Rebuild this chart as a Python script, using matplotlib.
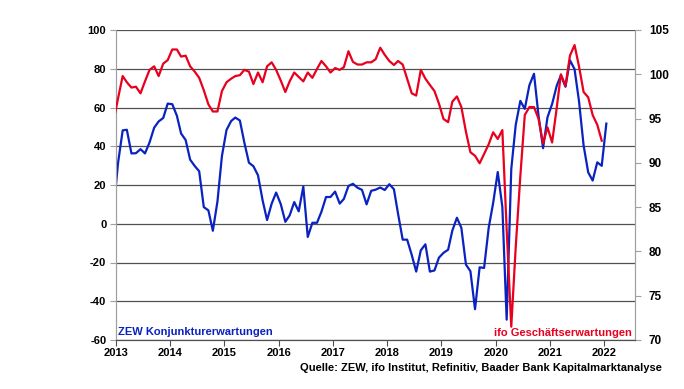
import matplotlib
matplotlib.use("Agg")
import matplotlib.pyplot as plt
import pandas as pd

plt.rcParams['font.family'] = ['Liberation Sans', 'DejaVu Sans']
plt.rcParams['font.weight'] = 'bold'
plt.rcParams['axes.unicode_minus'] = False

# ZEW Konjunkturerwartungen, monthly Dec 2012 .. Jan 2022
zew = [6.9,
       31.5, 48.2, 48.5, 36.3, 36.4, 38.5, 36.3, 42.0, 49.6, 52.8, 54.6, 62.0,
       61.7, 55.7, 46.6, 43.2, 33.1, 29.8, 27.1, 8.6, 6.9, -3.6, 11.5, 34.9,
       48.4, 53.0, 54.8, 53.3, 41.9, 31.5, 29.7, 25.0, 12.1, 1.9, 10.4, 16.1,
       10.2, 1.0, 4.3, 11.2, 6.4, 19.2, -6.8, 0.5, 0.5, 6.2, 13.8, 13.8,
       16.6, 10.4, 12.8, 19.5, 20.6, 18.6, 17.5, 10.0, 17.0, 17.6, 18.7, 17.4,
       20.4, 17.8, 5.1, -8.2, -8.2, -16.1, -24.7, -13.7, -10.6, -24.7, -24.1, -17.5,
       -15.0, -13.4, -3.6, 3.1, -2.1, -21.1, -24.5, -44.1, -22.5, -22.8, -2.1, 10.7,
       26.7, 8.7, -49.5, 28.2, 51.0, 63.4, 59.3, 71.5, 77.4, 56.1, 39.0, 55.0,
       61.8, 71.2, 76.6, 70.7, 84.4, 79.8, 63.3, 40.4, 26.5, 22.3, 31.7, 29.9,
       51.7]

# ifo Geschäftserwartungen, monthly Dec 2012 .. Dec 2021
ifo = [94.7,
       97.3, 99.8, 99.1, 98.5, 98.6, 97.85, 99.2, 100.5, 100.9, 99.8, 101.2, 101.6,
       102.8, 102.8, 102.0, 102.1, 100.9, 100.3, 99.6, 98.2, 96.6, 95.8, 95.8, 98.1,
       99.1, 99.5, 99.8, 99.9, 100.5, 100.3, 98.9, 100.2, 99.1, 100.9, 101.35, 100.5,
       99.3, 98.0, 99.2, 100.2, 99.7, 99.2, 100.2, 99.6, 100.6, 101.5, 100.9, 100.2,
       100.7, 100.5, 100.8, 102.6, 101.4, 101.1, 101.1, 101.35, 101.35, 101.7, 103.0, 102.2,
       101.5, 101.05, 101.5, 101.1, 99.5, 97.85, 97.6, 100.5, 99.5, 98.8, 98.1, 96.7,
       94.95, 94.6, 96.9, 97.5, 96.3, 93.5, 91.2, 90.8, 89.95, 91.0, 92.1, 93.45,
       92.7, 93.7, 82.5, 71.5, 80.5, 88.5, 95.4, 96.3, 96.3, 95.0, 92.2, 94.0,
       92.3, 96.2, 100.0, 98.7, 102.1, 103.3, 100.9, 98.0, 97.4, 95.4, 94.3, 92.5]

start_month = '2012-12-01'
left_ticks = [-60, -40, -20, 0, 20, 40, 60, 80, 100]
right_ticks = [70, 75, 80, 85, 90, 95, 100, 105]
year_ticks = list(range(2013, 2023))

zew_dates = pd.date_range(start_month, periods=len(zew), freq='MS') + pd.Timedelta(days=14)
ifo_dates = pd.date_range(start_month, periods=len(ifo), freq='MS') + pd.Timedelta(days=14)

BLUE = '#0A22C0'
RED = '#E8001E'
GRID = '#505050'

W, H = 684, 389
fig = plt.figure(figsize=(W / 100, H / 100), dpi=100)
L, R, T, B = 116, 635, 30, 340
ax = fig.add_axes([L / W, 1 - B / H, (R - L) / W, (B - T) / H])
ax2 = ax.twinx()

ax.plot(zew_dates, zew, color=BLUE, lw=1.6, solid_joinstyle='round', zorder=3)
ax2.plot(ifo_dates, ifo, color=RED, lw=1.6, solid_joinstyle='round', zorder=3)

ax.set_ylim(-60, 100)
ax.set_yticks(left_ticks)
ax2.set_ylim(70, 105)
ax2.set_yticks(right_ticks)

ax.set_xlim(pd.Timestamp('2013-01-01'), pd.Timestamp('2022-07-27'))
ax.set_xticks([pd.Timestamp(f'{y}-01-01') for y in year_ticks])
ax.set_xticklabels([str(y) for y in year_ticks])

ax.grid(axis='y', color=GRID, lw=0.9)
ax.set_axisbelow(True)

for a in (ax, ax2):
    a.spines['top'].set_visible(False)
    a.spines['left'].set_color('#A0A0A0')
    a.spines['right'].set_color('#A0A0A0')
    a.spines['bottom'].set_color(GRID)
    a.tick_params(labelsize=8, colors='black', length=4, width=0.8)
ax.tick_params(axis='y', color='#A0A0A0', pad=3)
ax2.tick_params(axis='y', color='#A0A0A0', pad=6, labelsize=8.5)
ax.tick_params(axis='x', color=GRID, pad=2)

for lab in ax.get_xticklabels() + ax.get_yticklabels() + ax2.get_yticklabels():
    lab.set_fontweight('bold')

fig.text(118 / W, 1 - 332 / H, 'ZEW Konjunkturerwartungen', color=BLUE,
         fontsize=8, fontweight='bold', ha='left', va='center')
fig.text(632 / W, 1 - 333 / H, 'ifo Geschäftserwartungen', color=RED,
         fontsize=8, fontweight='bold', ha='right', va='center')
fig.text(662 / W, 1 - 368 / H,
         'Quelle: ZEW, ifo Institut, Refinitiv, Baader Bank Kapitalmarktanalyse',
         color='black', fontsize=8, fontweight='bold', ha='right', va='center')

fig.savefig('out.png', dpi=100)
